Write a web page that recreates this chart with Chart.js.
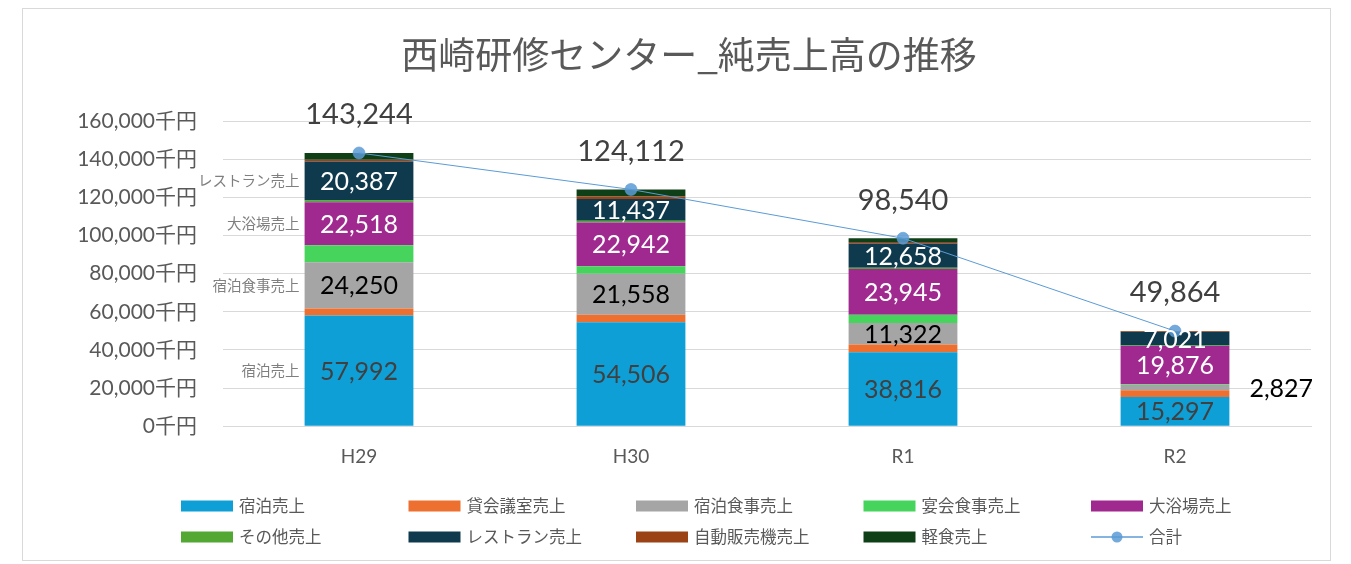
<!DOCTYPE html>
<html>
<head>
<meta charset="utf-8">
<script src="https://cdn.jsdelivr.net/npm/chart.js@4.4.0/dist/chart.umd.min.js"></script>
<style>
  html, body { margin: 0; padding: 0; background: #fff; }
  #wrap { width: 1351px; height: 564px; position: relative; }
</style>
</head>
<body>
<div id="wrap"><canvas id="myChart" width="1351" height="564"></canvas></div>
<script>
const categories = ['H29', 'H30', 'R1', 'R2'];
const shukuhaku = [57992, 54506, 38816, 15297];        // 宿泊売上
const kaigishitsu = [3700, 3900, 4000, 3600];          // 貸会議室売上
const shukuhakuShokuji = [24250, 21558, 11322, 2827];  // 宿泊食事売上
const enkai = [8900, 3900, 4300, 400];                 // 宴会食事売上
const daiyokujo = [22518, 22942, 23945, 19876];        // 大浴場売上
const sonota = [1000, 900, 700, 300];                  // その他売上
const restaurant = [20387, 11437, 12658, 7021];        // レストラン売上
const jihanki = [1000, 1300, 800, 400];                // 自動販売機売上
const keishoku = [3497, 3669, 1999, 143];              // 軽食売上
const totals = [143244, 124112, 98540, 49864];         // 合計
const yTicks = [0, 20000, 40000, 60000, 80000, 100000, 120000, 140000, 160000];

const NUM = 'Lato, "Noto Sans CJK JP", sans-serif';
const JP = '"Noto Sans CJK JP", sans-serif';

// which segments get a value label, and in what colour
const labelColors = { 0: '#404040', 2: '#000000', 4: '#ffffff', 6: '#ffffff' };

function bar(label, data, color) {
  return { type: 'bar', label: label, data: data, backgroundColor: color, stack: 'a', order: 1,
           categoryPercentage: 1.0, barPercentage: 0.4 };
}

const overlay = {
  id: 'overlay',
  beforeDraw(chart) {
    const ctx = chart.ctx;
    ctx.save();
    ctx.strokeStyle = '#d9d9d9';
    ctx.lineWidth = 1;
    ctx.strokeRect(22.5, 8.5, 1308, 552);
    ctx.restore();
  },
  afterDatasetsDraw(chart) {
    const ctx = chart.ctx;
    ctx.save();
    // title
    ctx.fillStyle = '#595959';
    ctx.font = '37px ' + JP;
    ctx.textAlign = 'center';
    ctx.textBaseline = 'middle';
    ctx.fillText('西崎研修センター_純売上高の推移', 689, 55);

    // segment value labels + series names beside the first bar
    Object.keys(labelColors).forEach(k => {
      const i = +k;
      const meta = chart.getDatasetMeta(i);
      const ds = chart.data.datasets[i];
      meta.data.forEach((el, j) => {
        const h = Math.abs(el.base - el.y);
        const cy = (el.y + el.base) / 2;
        const txt = ds.data[j].toLocaleString('en-US');
        ctx.font = '25px ' + NUM;
        ctx.textBaseline = 'middle';
        if (h < 12) {
          ctx.fillStyle = '#000000';
          ctx.textAlign = 'left';
          ctx.fillText(txt, el.x + el.width / 2 + 20, cy + 1);
        } else {
          ctx.fillStyle = labelColors[k];
          ctx.textAlign = 'center';
          ctx.fillText(txt, el.x, cy + 1);
        }
        if (j === 0) {
          ctx.font = '14.5px ' + JP;
          ctx.fillStyle = '#7f7f7f';
          ctx.textAlign = 'right';
          ctx.fillText(ds.label, el.x - el.width / 2 - 5, cy);
        }
      });
    });

    // totals above the line points
    const lineIdx = chart.data.datasets.length - 1;
    chart.getDatasetMeta(lineIdx).data.forEach((pt, j) => {
      ctx.font = '29px ' + NUM;
      ctx.fillStyle = '#404040';
      ctx.textAlign = 'center';
      ctx.textBaseline = 'middle';
      ctx.fillText(totals[j].toLocaleString('en-US'), pt.x, pt.y - 38);
    });

    // legend, 5 columns x 2 rows
    chart.data.datasets.forEach((ds, i) => {
      const x = 181 + (i % 5) * 227.5;
      const y = 506 + Math.floor(i / 5) * 31;
      if (ds.type === 'line') {
        ctx.strokeStyle = ds.borderColor;
        ctx.lineWidth = 1.5;
        ctx.beginPath();
        ctx.moveTo(x, y);
        ctx.lineTo(x + 52, y);
        ctx.stroke();
        ctx.fillStyle = ds.pointBackgroundColor;
        ctx.beginPath();
        ctx.arc(x + 26, y, 5.5, 0, Math.PI * 2);
        ctx.fill();
      } else {
        ctx.fillStyle = ds.backgroundColor;
        ctx.fillRect(x, y - 5.5, 52, 11);
      }
      ctx.font = '16.5px ' + JP;
      ctx.fillStyle = '#595959';
      ctx.textAlign = 'left';
      ctx.textBaseline = 'middle';
      ctx.fillText(ds.label, x + 58, y);
    });
    ctx.restore();
  }
};

const ctx = document.getElementById('myChart').getContext('2d');
const myChart = new Chart(ctx, {
  data: {
    labels: categories,
    datasets: [
      bar('宿泊売上', shukuhaku, '#0f9fd7'),
      bar('貸会議室売上', kaigishitsu, '#ed7031'),
      bar('宿泊食事売上', shukuhakuShokuji, '#a5a5a5'),
      bar('宴会食事売上', enkai, '#46d45c'),
      bar('大浴場売上', daiyokujo, '#a0298f'),
      bar('その他売上', sonota, '#52a832'),
      bar('レストラン売上', restaurant, '#0f3a4e'),
      bar('自動販売機売上', jihanki, '#9b4314'),
      bar('軽食売上', keishoku, '#0e3f17'),
      {
        type: 'line', label: '合計', data: totals, stack: 'b', order: 0,
        borderColor: '#5b9bd5', borderWidth: 1, pointRadius: 6,
        pointBackgroundColor: 'rgba(91,155,213,0.85)', pointBorderColor: 'rgba(91,155,213,0.6)',
        pointBorderWidth: 1, tension: 0, fill: false
      }
    ]
  },
  options: {
    responsive: false,
    animation: false,
    layout: { padding: { top: 121, right: 40, bottom: 77, left: 0 } },
    plugins: {
      legend: { display: false },
      title: { display: false },
      tooltip: { enabled: false }
    },
    scales: {
      x: {
        stacked: true,
        grid: { display: false, drawTicks: false },
        border: { color: '#d9d9d9' },
        ticks: { color: '#595959', font: { family: NUM, size: 19 }, padding: 19 }
      },
      y: {
        stacked: true,
        min: 0, max: 160000,
        afterBuildTicks(scale) { scale.ticks = yTicks.map(v => ({ value: v })); },
        afterFit(scale) { scale.width = 223; },
        grid: { color: '#d9d9d9', drawTicks: false },
        border: { display: false },
        ticks: {
          color: '#595959', font: { family: NUM, size: 21 }, padding: 26,
          callback: v => v.toLocaleString('en-US') + '千円'
        }
      }
    }
  },
  plugins: [overlay]
});
</script>
</body>
</html>
